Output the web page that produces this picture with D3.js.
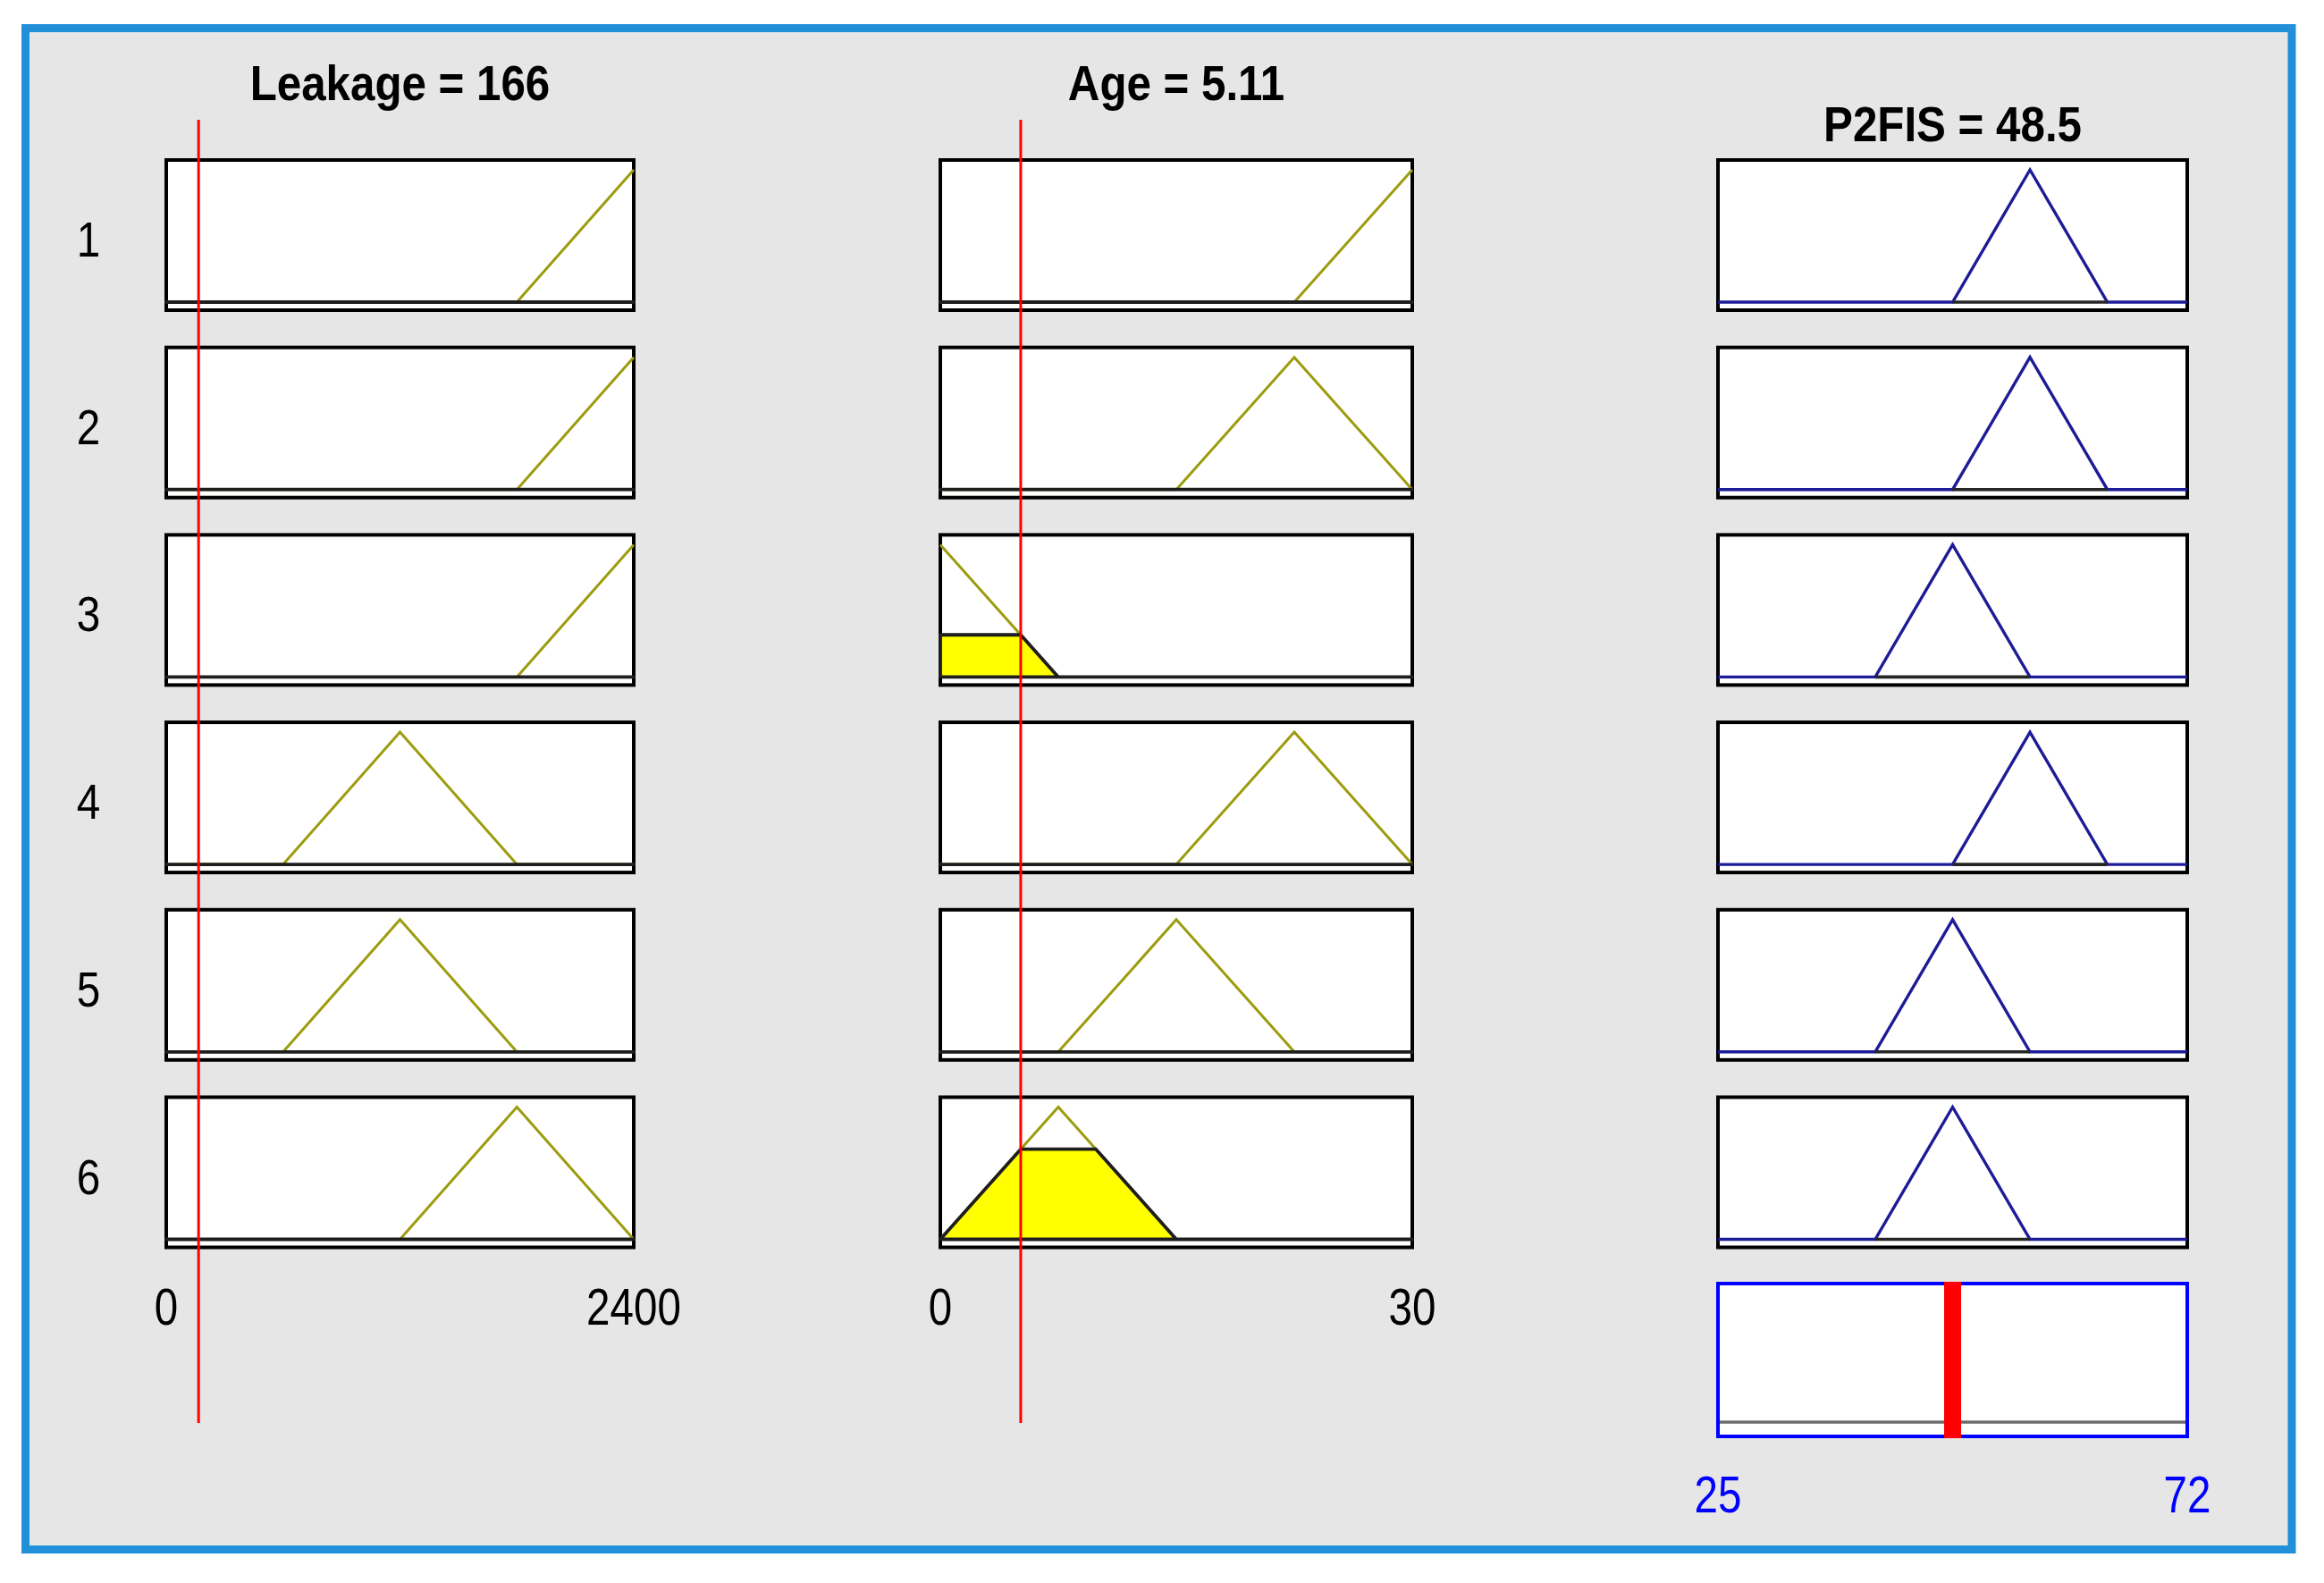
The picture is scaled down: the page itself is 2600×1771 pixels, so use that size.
<!DOCTYPE html>
<html><head><meta charset="utf-8">
<script src="https://cdn.jsdelivr.net/npm/d3@7"></script>
<style>html,body{margin:0;padding:0;background:#fff;}svg{display:block;}</style>
</head><body>
<svg id="chart" width="2600" height="1771"></svg>
<script>
// ---------- data ----------
const ruleLabels = ["1","2","3","4","5","6"];
const inputNames = ["Leakage","Age"];
const inputValues = [166, 5.11];
const inputRanges = [[0, 2400], [0, 30]];
const inputTickLabels = [["0","2400"],["0","30"]];
// trapezoid parameters [a, b, c, d] per rule
const leakageMF = [[1800,2400,2400,2400],[1800,2400,2400,2400],[1800,2400,2400,2400],[600,1200,1200,1800],[600,1200,1200,1800],[1200,1800,1800,2400]];
const ageMF = [[22.5,30,30,30],[15,22.5,22.5,30],[0,0,0,7.5],[15,22.5,22.5,30],[7.5,15,15,22.5],[0,7.5,7.5,15]];
const outputName = "P2FIS";
const outputValue = 48.5;
const outputRange = [25, 72];
const outputTickLabels = ["25","72"];
const outputMF = [[48.5,56.25,56.25,64],[48.5,56.25,56.25,64],[40.75,48.5,48.5,56.25],[48.5,56.25,56.25,64],[40.75,48.5,48.5,56.25],[40.75,48.5,48.5,56.25]];
const ruleStrength = [0,0,0,0,0,0];

// ---------- layout ----------
const svg = d3.select("#chart");
const colX = [[186, 709], [1052, 1580], [1922, 2447]];
const rowTop0 = 179, rowPitch = 209.7, boxH = 168;
const baseOff = 159, peakOff = 11;
const FONT = "'Liberation Sans', Arial, Helvetica, sans-serif";

svg.append("rect").attr("x",0).attr("y",0).attr("width",2600).attr("height",1771).attr("fill","#fff");
svg.append("rect").attr("x",28.5).attr("y",31.5).attr("width",2535.5).attr("height",1702)
  .attr("fill","#e6e6e6").attr("stroke","#2290d8").attr("stroke-width",9);

function mf(p, x){
  const [a,b,c,d] = p;
  if (x < a || x > d) return 0;
  if (x >= b && x <= c) return 1;
  if (x < b) return (x - a) / (b - a);
  return (d - x) / (d - c);
}
function mfPoints(p, dom){
  const xs = Array.from(new Set([dom[0], ...p, dom[1]])).filter(v => v >= dom[0] && v <= dom[1]).sort((u,v)=>u-v);
  const pts = [];
  xs.forEach(x => {
    const [a,b,c,d] = p;
    if (x === a && a > dom[0] && b > a) pts.push([x,0]);
    else if (x === d && d < dom[1] && d > c) pts.push([x,0]);
    else pts.push([x, mf(p,x)]);
  });
  return pts;
}
function clipPoints(p, level, dom, full){
  const [a,b,c,d] = p;
  const xL = a + level*(b-a), xR = d - level*(d-c);
  const pts = [];
  if (full && dom[0] < a) pts.push([dom[0],0]);
  pts.push([a,0]);
  pts.push([xL, level]);
  pts.push([xR, level]);
  pts.push([d,0]);
  if (full && dom[1] > d) pts.push([dom[1],0]);
  return pts;
}
function addText(g, str, x, y, size, weight, color, sx){
  g.append("text").attr("transform",`translate(${x},${y}) scale(${sx},1)`)
    .attr("text-anchor","middle").attr("font-family",FONT).attr("font-size",size)
    .attr("font-weight",weight).attr("fill",color).text(str);
}

const g = svg.append("g");

// row labels
ruleLabels.forEach((lab,i) => addText(g, lab, 99, rowTop0 + i*rowPitch + 108, 56, "normal", "#000", 0.85));

// input columns
const inputMFs = [leakageMF, ageMF];
inputMFs.forEach((mfs, k) => {
  const dom = inputRanges[k];
  const x = d3.scaleLinear().domain(dom).range(colX[k]);
  const cx = (colX[k][0] + colX[k][1]) / 2;
  addText(g, `${inputNames[k]} = ${inputValues[k]}`, cx, 112, 56, "bold", "#000", 0.88);
  mfs.forEach((p, i) => {
    const top = rowTop0 + i*rowPitch;
    const y = d3.scaleLinear().domain([0,1]).range([top + baseOff, top + peakOff]);
    const line = d3.line().x(d => x(d[0])).y(d => y(d[1]));
    g.append("rect").attr("x",x(dom[0])).attr("y",top).attr("width",x(dom[1])-x(dom[0])).attr("height",boxH)
      .attr("fill","#fff").attr("stroke","#000").attr("stroke-width",4);
    g.append("path").attr("d", line(mfPoints(p, dom))).attr("fill","none").attr("stroke","#9c9c10").attr("stroke-width",3);
    const level = mf(p, inputValues[k]);
    g.append("path").attr("d", line(clipPoints(p, level, dom, true)) + "Z")
      .attr("fill","#ffff00").attr("stroke","#1e1e1e").attr("stroke-width",3.8).attr("stroke-linejoin","round");
  });
  addText(g, inputTickLabels[k][0], x(dom[0]), 1482, 58, "normal", "#000", 0.82);
  addText(g, inputTickLabels[k][1], x(dom[1]), 1482, 58, "normal", "#000", 0.82);
});

// output column
{
  const dom = outputRange;
  const x = d3.scaleLinear().domain(dom).range(colX[2]);
  const cx = (colX[2][0] + colX[2][1]) / 2;
  addText(g, `${outputName} = ${outputValue}`, cx, 158, 56, "bold", "#000", 0.88);
  outputMF.forEach((p, i) => {
    const top = rowTop0 + i*rowPitch;
    const y = d3.scaleLinear().domain([0,1]).range([top + baseOff, top + peakOff]);
    const line = d3.line().x(d => x(d[0])).y(d => y(d[1]));
    g.append("rect").attr("x",x(dom[0])).attr("y",top).attr("width",x(dom[1])-x(dom[0])).attr("height",boxH)
      .attr("fill","#fff").attr("stroke","#000").attr("stroke-width",4);
    g.append("path").attr("d", line(mfPoints(p, dom))).attr("fill","none").attr("stroke","#1c1c98").attr("stroke-width",3.4);
    g.append("path").attr("d", line(clipPoints(p, ruleStrength[i], dom, false)) + "Z")
      .attr("fill","#ffff00").attr("stroke","#262626").attr("stroke-width",3.6);
  });
  // aggregate box
  const aTop = 1436, aH = 171;
  const y = d3.scaleLinear().domain([0,1]).range([aTop + 155, aTop + 12]);
  g.append("rect").attr("x",x(dom[0])).attr("y",aTop).attr("width",x(dom[1])-x(dom[0])).attr("height",aH)
    .attr("fill","#fff").attr("stroke","#0000ff").attr("stroke-width",4);
  g.append("line").attr("x1",x(dom[0])+2).attr("x2",x(dom[1])-2).attr("y1",y(0)).attr("y2",y(0))
    .attr("stroke","#6e6e6e").attr("stroke-width",3.5);
  g.append("line").attr("x1",x(outputValue)).attr("x2",x(outputValue)).attr("y1",aTop-2).attr("y2",aTop+aH+2)
    .attr("stroke","#ff0000").attr("stroke-width",19);
  addText(g, outputTickLabels[0], x(dom[0]), 1692, 58, "normal", "#0000ff", 0.82);
  addText(g, outputTickLabels[1], x(dom[1]), 1692, 58, "normal", "#0000ff", 0.82);
}

// input value lines
inputValues.forEach((v, k) => {
  const x = d3.scaleLinear().domain(inputRanges[k]).range(colX[k]);
  g.append("line").attr("x1",x(v)).attr("x2",x(v)).attr("y1",134).attr("y2",1592)
    .attr("stroke","#ff0000").attr("stroke-width",3);
});
</script>
</body></html>
